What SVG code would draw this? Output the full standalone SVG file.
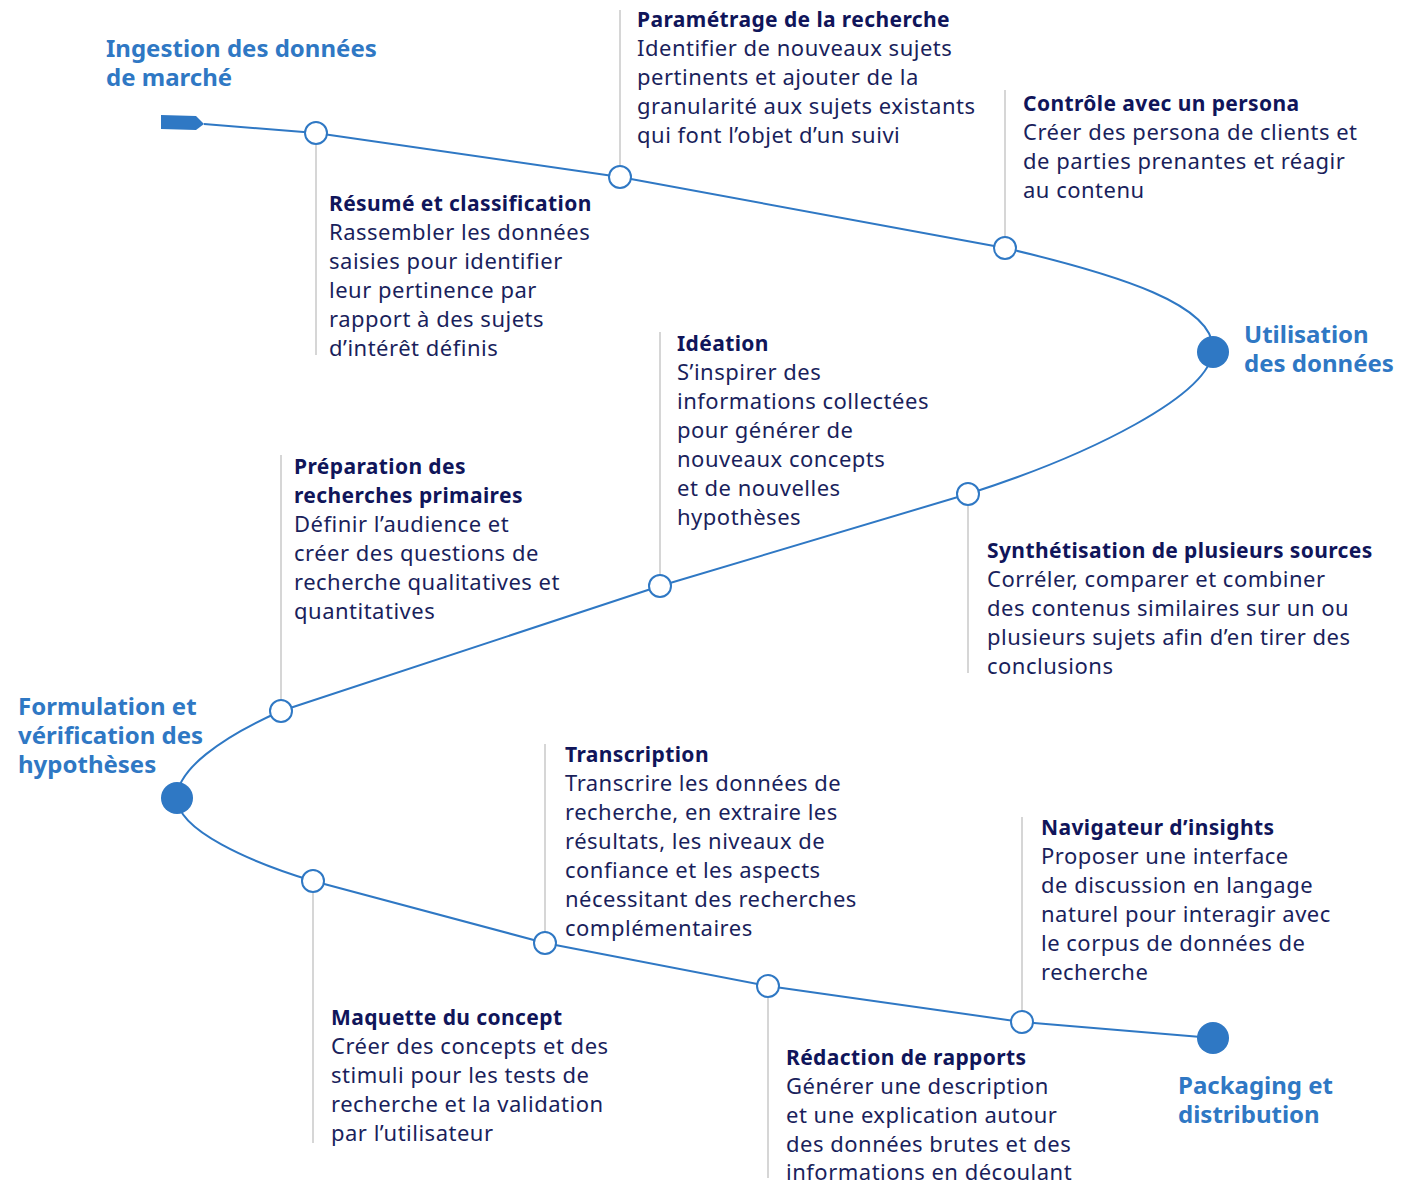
<svg xmlns="http://www.w3.org/2000/svg" width="1419" height="1184" viewBox="0 0 1419 1184">
<style>
.bg{fill:#ffffff}
.path{fill:none;stroke:#2f78c4;stroke-width:2}
.lead{stroke:#c8c8c8;stroke-width:1.5}
.open{fill:#ffffff;stroke:#2f78c4;stroke-width:2}
.full{fill:#2f78c4}
.hd{font-family:"Noto Sans","Liberation Sans",sans-serif;font-size:24px;font-weight:bold;fill:#2f78c4}
.tt{font-family:"Noto Sans","Liberation Sans",sans-serif;font-size:21px;font-weight:bold;letter-spacing:0.4px;fill:#10155a}
.bd{font-family:"Noto Sans","Liberation Sans",sans-serif;font-size:22px;letter-spacing:0.5px;fill:#1a1f5c}
</style>
<rect class="bg" x="0" y="0" width="1419" height="1184"/>
<g id="connectors">
<path class="path" d="M204,124 L316,133 L620,177 L1005,248 C1120,275 1215,305 1213,350 C1211,395 1090,455 968,494 L660,586 L281,711 C220,738 177,770 177,798 C177,830 250,862 313,881 L545,943 L768,986 L1022,1022 L1213,1038"/>
<line class="lead" x1="316" y1="145" x2="316" y2="355"/>
<line class="lead" x1="620" y1="10" x2="620" y2="165"/>
<line class="lead" x1="1005" y1="90" x2="1005" y2="237"/>
<line class="lead" x1="968" y1="506" x2="968" y2="673"/>
<line class="lead" x1="660" y1="332" x2="660" y2="575"/>
<line class="lead" x1="281" y1="455" x2="281" y2="700"/>
<line class="lead" x1="313" y1="893" x2="313" y2="1143"/>
<line class="lead" x1="545" y1="744" x2="545" y2="932"/>
<line class="lead" x1="768" y1="998" x2="768" y2="1178"/>
<line class="lead" x1="1022" y1="817" x2="1022" y2="1011"/>
</g>
<g id="start">
<polygon class="full" points="161,115 196,116 204,124 196,130 161,129"/>
<text class="hd" x="106" y="57">Ingestion des données</text>
<text class="hd" x="106" y="86">de marché</text>
</g>
<g id="resume">
<circle class="open" cx="316" cy="133" r="11"/>
<text class="tt" x="329" y="211">Résumé et classification</text>
<text class="bd" x="329" y="240">Rassembler les données</text>
<text class="bd" x="329" y="269">saisies pour identifier</text>
<text class="bd" x="329" y="298">leur pertinence par</text>
<text class="bd" x="329" y="327">rapport à des sujets</text>
<text class="bd" x="329" y="356">d’intérêt définis</text>
</g>
<g id="parametrage">
<circle class="open" cx="620" cy="177" r="11"/>
<text class="tt" x="637" y="27">Paramétrage de la recherche</text>
<text class="bd" x="637" y="56">Identifier de nouveaux sujets</text>
<text class="bd" x="637" y="85">pertinents et ajouter de la</text>
<text class="bd" x="637" y="114">granularité aux sujets existants</text>
<text class="bd" x="637" y="143">qui font l’objet d’un suivi</text>
</g>
<g id="controle">
<circle class="open" cx="1005" cy="248" r="11"/>
<text class="tt" x="1023" y="111">Contrôle avec un persona</text>
<text class="bd" x="1023" y="140">Créer des persona de clients et</text>
<text class="bd" x="1023" y="169">de parties prenantes et réagir</text>
<text class="bd" x="1023" y="198">au contenu</text>
</g>
<g id="utilisation">
<circle class="full" cx="1213" cy="352" r="16"/>
<text class="hd" x="1244" y="343">Utilisation</text>
<text class="hd" x="1244" y="372">des données</text>
</g>
<g id="synthetisation">
<circle class="open" cx="968" cy="494" r="11"/>
<text class="tt" x="987" y="558">Synthétisation de plusieurs sources</text>
<text class="bd" x="987" y="587">Corréler, comparer et combiner</text>
<text class="bd" x="987" y="616">des contenus similaires sur un ou</text>
<text class="bd" x="987" y="645">plusieurs sujets afin d’en tirer des</text>
<text class="bd" x="987" y="674">conclusions</text>
</g>
<g id="ideation">
<circle class="open" cx="660" cy="586" r="11"/>
<text class="tt" x="677" y="351">Idéation</text>
<text class="bd" x="677" y="380">S’inspirer des</text>
<text class="bd" x="677" y="409">informations collectées</text>
<text class="bd" x="677" y="438">pour générer de</text>
<text class="bd" x="677" y="467">nouveaux concepts</text>
<text class="bd" x="677" y="496">et de nouvelles</text>
<text class="bd" x="677" y="525">hypothèses</text>
</g>
<g id="preparation">
<circle class="open" cx="281" cy="711" r="11"/>
<text class="tt" x="294" y="474">Préparation des</text>
<text class="tt" x="294" y="503">recherches primaires</text>
<text class="bd" x="294" y="532">Définir l’audience et</text>
<text class="bd" x="294" y="561">créer des questions de</text>
<text class="bd" x="294" y="590">recherche qualitatives et</text>
<text class="bd" x="294" y="619">quantitatives</text>
</g>
<g id="formulation">
<circle class="full" cx="177" cy="798" r="16"/>
<text class="hd" x="18" y="715">Formulation et</text>
<text class="hd" x="18" y="744">vérification des</text>
<text class="hd" x="18" y="773">hypothèses</text>
</g>
<g id="maquette">
<circle class="open" cx="313" cy="881" r="11"/>
<text class="tt" x="331" y="1025">Maquette du concept</text>
<text class="bd" x="331" y="1054">Créer des concepts et des</text>
<text class="bd" x="331" y="1083">stimuli pour les tests de</text>
<text class="bd" x="331" y="1112">recherche et la validation</text>
<text class="bd" x="331" y="1141">par l’utilisateur</text>
</g>
<g id="transcription">
<circle class="open" cx="545" cy="943" r="11"/>
<text class="tt" x="565" y="762">Transcription</text>
<text class="bd" x="565" y="791">Transcrire les données de</text>
<text class="bd" x="565" y="820">recherche, en extraire les</text>
<text class="bd" x="565" y="849">résultats, les niveaux de</text>
<text class="bd" x="565" y="878">confiance et les aspects</text>
<text class="bd" x="565" y="907">nécessitant des recherches</text>
<text class="bd" x="565" y="936">complémentaires</text>
</g>
<g id="redaction">
<circle class="open" cx="768" cy="986" r="11"/>
<text class="tt" x="786" y="1065">Rédaction de rapports</text>
<text class="bd" x="786" y="1094">Générer une description</text>
<text class="bd" x="786" y="1123">et une explication autour</text>
<text class="bd" x="786" y="1152">des données brutes et des</text>
<text class="bd" x="786" y="1180">informations en découlant</text>
</g>
<g id="navigateur">
<circle class="open" cx="1022" cy="1022" r="11"/>
<text class="tt" x="1041" y="835">Navigateur d’insights</text>
<text class="bd" x="1041" y="864">Proposer une interface</text>
<text class="bd" x="1041" y="893">de discussion en langage</text>
<text class="bd" x="1041" y="922">naturel pour interagir avec</text>
<text class="bd" x="1041" y="951">le corpus de données de</text>
<text class="bd" x="1041" y="980">recherche</text>
</g>
<g id="packaging">
<circle class="full" cx="1213" cy="1038" r="16"/>
<text class="hd" x="1178" y="1094">Packaging et</text>
<text class="hd" x="1178" y="1123">distribution</text>
</g>
</svg>
